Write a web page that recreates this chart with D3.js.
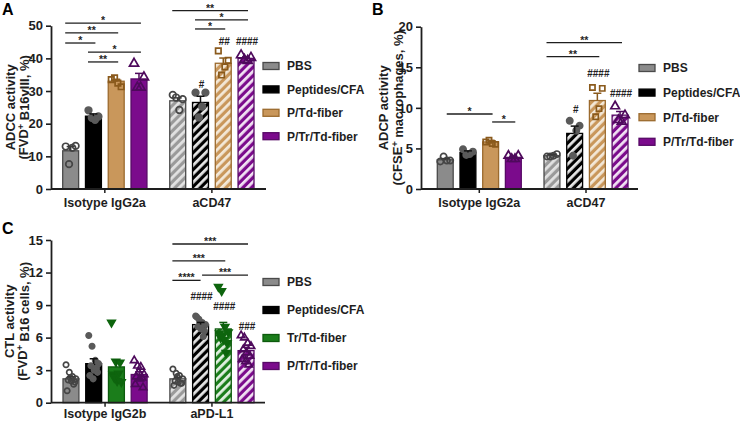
<!DOCTYPE html>
<html><head><meta charset="utf-8">
<script src="https://cdn.jsdelivr.net/npm/d3@7"></script>
<style>body{margin:0;background:#fff;} svg{display:block;font-family:"Liberation Sans",Arial,sans-serif;} .gs{opacity:0.99;}</style>
</head><body><svg id="c" width="740" height="423"></svg>
<script>
// ---------------- DATA ----------------
// Panel A : ADCC
const groupsA = ["Isotype IgG2a", "aCD47"];
const seriesA = ["PBS", "Peptides/CFA", "P/Td-fiber", "P/Tr/Td-fiber"];
const ticksA = [0, 10, 20, 30, 40, 50];
const meanA_iso = [11.7, 22.3, 33.0, 33.7];
const meanA_cd47 = [27.0, 26.5, 38.5, 40.0];
const semA_iso = [1.3, 0.7, 0.6, 1.7];
const semA_cd47 = [0.9, 1.9, 1.6, 0.4];
const ptsA_iso = [[13.0, 13.2, 12.6, 7.6], [24.1, 22.2, 21.2, 21.8], [33.5, 31.3, 32.4, 34.0], [38.4, 34.2, 31.1, 31.1]];
const ptsA_cd47 = [[28.8, 27.5, 24.2, 28.0], [29.5, 29.5, 25.2, 21.9], [42.3, 39.4, 37.4, 34.9], [41.0, 40.2, 39.3, 39.6]];
const sigA = [
  {g: 0, a: 0, b: 3, y: 50.8, label: "*"},
  {g: 0, a: 0, b: 2, y: 47.8, label: "**"},
  {g: 0, a: 0, b: 1, y: 44.7, label: "*"},
  {g: 0, a: 1, b: 3, y: 41.9, label: "*"},
  {g: 0, a: 1, b: 2, y: 38.9, label: "**"},
  {g: 1, a: 0, b: 3, y: 54.6, label: "**"},
  {g: 1, a: 1, b: 3, y: 51.8, label: "*"},
  {g: 1, a: 1, b: 2, y: 49.0, label: "*"}
];
const hashA = [{g: 1, i: 1, y: 32.1, label: "#"}, {g: 1, i: 2, y: 45.3, label: "##"}, {g: 1, i: 3, y: 45.3, label: "####"}];

// Panel B : ADCP
const groupsB = ["Isotype IgG2a", "aCD47"];
const seriesB = ["PBS", "Peptides/CFA", "P/Td-fiber", "P/Tr/Td-fiber"];
const ticksB = [0, 5, 10, 15, 20];
const meanB_iso = [3.6, 4.5, 5.8, 3.9];
const meanB_cd47 = [4.1, 6.85, 10.9, 9.1];
const semB_iso = [0.15, 0.2, 0.2, 0.15];
const semB_cd47 = [0.15, 0.9, 0.9, 0.45];
const ptsB_iso = [[3.4, 3.5, 3.5, 4.0], [4.9, 4.6, 4.3, 4.2], [5.8, 5.5, 5.6, 6.0], [4.1, 4.1, 3.7, 3.7]];
const ptsB_cd47 = [[4.0, 4.3, 4.1, 4.0], [8.4, 7.8, 7.2, 4.1], [12.5, 12.4, 9.9, 8.9], [10.2, 9.1, 8.3, 8.5]];
const sigB = [
  {g: 0, a: 0, b: 2, y: 9.24, label: "*", mid: true},
  {g: 0, a: 2, b: 3, y: 8.26, label: "*", mid: true},
  {g: 1, a: 0, b: 3, y: 18.03, label: "**"},
  {g: 1, a: 0, b: 2, y: 16.31, label: "**"}
];
const hashB = [{g: 1, i: 1, y: 9.85, label: "#"}, {g: 1, i: 2, y: 14.26, label: "####"}, {g: 1, i: 3, y: 11.79, label: "####"}];

// Panel C : CTL
const groupsC = ["Isotype IgG2b", "aPD-L1"];
const seriesC = ["PBS", "Peptides/CFA", "Tr/Td-fiber", "P/Tr/Td-fiber"];
const ticksC = [0, 3, 6, 9, 12, 15];
const meanC_iso = [2.2, 3.6, 3.3, 2.6];
const meanC_pd = [2.2, 7.2, 6.8, 4.8];
const semC_iso = [0.2, 0.45, 0.65, 0.25];
const semC_pd = [0.15, 0.2, 0.6, 0.3];
const ptsC_iso = [
  [3.5, 2.8, 2.4, 2.2, 2.1, 2.0, 1.9, 1.1, 2.3, 1.7],
  [6.2, 5.2, 3.9, 3.6, 3.4, 3.0, 2.8, 2.5, 2.2, 3.2],
  [7.4, 3.8, 3.7, 2.6, 2.0, 1.9, 2.3, 2.7],
  [3.9, 3.4, 3.3, 2.6, 2.4, 2.2, 1.4, 1.7, 2.8, 2.3]
];
const ptsC_pd = [
  [3.1, 2.7, 2.5, 2.2, 2.0, 1.9, 1.8, 1.6, 2.4, 1.8],
  [8.0, 7.7, 7.4, 7.2, 7.0, 6.8, 6.6, 7.9, 7.3, 6.1],
  [10.7, 10.3, 7.0, 6.5, 6.0, 5.8, 5.5, 6.4, 6.2, 4.6],
  [6.2, 6.0, 5.5, 5.2, 4.9, 4.6, 4.3, 4.0, 3.8, 3.5]
];
const sigC = [
  {g: 1, a: 0, b: 3, y: 14.63, label: "***"},
  {g: 1, a: 0, b: 2, y: 13.07, label: "***"},
  {g: 1, a: 0, b: 1, y: 11.28, label: "****", endMid: true},
  {g: 1, a: 1, b: 3, y: 11.77, label: "***", mid: true}
];
const hashC = [{g: 1, i: 1, y: 9.79, label: "####"}, {g: 1, i: 2, y: 8.86, label: "####"}, {g: 1, i: 3, y: 7.02, label: "###"}];

// ---------------- STYLES ----------------
const styles = {
  "PBS":          {fill: "#8b8b8b", stroke: "#4a4a4a", hatchBg: "#9a9a9a", hatchFg: "#e2e2e2", marker: d3.symbolCircle, mFill: "none", mStroke: "#454545", err: "#3a3a3a"},
  "Peptides/CFA": {fill: "#000000", stroke: "#000000", hatchBg: "#000000", hatchFg: "#e6e6e6", marker: d3.symbolCircle, mFill: "#5a5a5a", mStroke: "#5a5a5a", err: "#111"},
  "P/Td-fiber":   {fill: "#c9975b", stroke: "#9b6a2e", hatchBg: "#c9975b", hatchFg: "#f3e8d8", marker: d3.symbolSquare, mFill: "none", mStroke: "#8a5a1c", err: "#8a5a1c"},
  "P/Tr/Td-fiber":{fill: "#7b0b8c", stroke: "#570a66", hatchBg: "#7b0b8c", hatchFg: "#f1e3f3", marker: d3.symbolTriangle, mFill: "none", mStroke: "#4e0a5c", err: "#4e0a5c"},
  "Tr/Td-fiber":  {fill: "#1b7d1b", stroke: "#0d5a0d", hatchBg: "#1b7d1b", hatchFg: "#e3f1e3", marker: d3.symbolTriangle, down: true, mFill: "#0e650e", mStroke: "#0e650e", err: "#0d5a0d"}
};

const panels = [
  {id: "A", letter: [2, 15], groups: groupsA, series: seriesA, ticks: ticksA, means: [meanA_iso, meanA_cd47], sems: [semA_iso, semA_cd47], pts: [ptsA_iso, ptsA_cd47], sig: sigA, hash: hashA,
   title: ["ADCC activity", "(FVD", " B16vIII, %)"], yPx: [189, 25.7], axisX: [51, 266], barX: [62.7, 254], legend: [263, 66, 23.4], titleX: [10, 23], catY: 207, mScale: 1},
  {id: "B", letter: [372, 15], groups: groupsB, series: seriesB, ticks: ticksB, means: [meanB_iso, meanB_cd47], sems: [semB_iso, semB_cd47], pts: [ptsB_iso, ptsB_cd47], sig: sigB, hash: hashB,
   title: ["ADCP activity", "(CFSE", " macrophages, %)"], yPx: [189, 26.7], axisX: [421, 638], barX: [437.3, 628], legend: [639, 68, 24.6], titleX: [383.5, 397], catY: 207, mScale: 0.95},
  {id: "C", letter: [2, 234], groups: groupsC, series: seriesC, ticks: ticksC, means: [meanC_iso, meanC_pd], sems: [semC_iso, semC_pd], pts: [ptsC_iso, ptsC_pd], sig: sigC, hash: hashC,
   title: ["CTL activity", "(FVD", " B16 cells, %)"], yPx: [402.7, 240], axisX: [51, 265], barX: [63, 254], legend: [263, 282, 28], titleX: [9.5, 22.5], catY: 418, mScale: 0.82}
];

const svg = d3.select("#c");
const defs = svg.append("defs");
const ink = "#1e1e1e";

panels.forEach(p => {
  const g = svg.append("g");
  const yMax = p.ticks[p.ticks.length - 1];
  const y = d3.scaleLinear().domain([0, yMax]).range(p.yPx);
  const outer = d3.scaleBand().domain(p.groups).range(p.barX).paddingInner(0.213).paddingOuter(0);
  const inner = d3.scaleBand().domain(p.series).range([0, outer.bandwidth()]).paddingInner(0.3).paddingOuter(0);
  const bw = inner.bandwidth();
  const bx = (gi, si) => outer(p.groups[gi]) + inner(p.series[si]);
  const cx = (gi, si) => bx(gi, si) + bw / 2;

  // hatch patterns
  p.series.forEach((s, si) => {
    const st = styles[s];
    const pat = defs.append("pattern").attr("id", `h${p.id}${si}`).attr("patternUnits", "userSpaceOnUse")
      .attr("width", 6).attr("height", 6).attr("patternTransform", "rotate(45)");
    pat.append("rect").attr("width", 6).attr("height", 6).attr("fill", st.hatchBg);
    pat.append("rect").attr("x", 0).attr("width", 2.8).attr("height", 6).attr("fill", st.hatchFg);
  });

  // panel letter
  g.append("text").attr("x", p.letter[0]).attr("y", p.letter[1]).attr("font-size", 16).attr("font-weight", "bold").attr("fill", "#000").text(p.id);

  // bars
  p.groups.forEach((grp, gi) => {
    p.series.forEach((s, si) => {
      const st = styles[s];
      const v = p.means[gi][si];
      g.append("rect").attr("x", bx(gi, si)).attr("width", bw)
        .attr("y", y(v)).attr("height", y(0) - y(v))
        .attr("fill", gi === 0 ? st.fill : `url(#h${p.id}${si})`)
        .attr("stroke", st.stroke).attr("stroke-width", 1.3);
    });
  });

  // points
  p.groups.forEach((grp, gi) => {
    p.series.forEach((s, si) => {
      const st = styles[s];
      const arr = p.pts[gi][si];
      const n = arr.length;
      const sc = p.mScale * p.mScale;
      const sym = d3.symbol().type(st.marker).size(st.marker === d3.symbolSquare ? 30 * sc : (st.marker === d3.symbolTriangle ? 36 * sc : 34 * sc));
      arr.forEach((v, i) => {
        const k = n > 1 ? ((i * 3) % n) / (n - 1) - 0.5 : 0;
        const px = cx(gi, si) + k * bw * 0.62;
        g.append("path").attr("d", sym())
          .attr("transform", `translate(${px},${y(v)})${st.down ? " rotate(180)" : ""}`)
          .attr("fill", st.mFill).attr("stroke", st.mStroke).attr("stroke-width", 1.7);
      });
    });
  });

  // error bars (upper)
  p.groups.forEach((grp, gi) => {
    p.series.forEach((s, si) => {
      const st = styles[s];
      const m = p.means[gi][si], e = p.sems[gi][si];
      const x = cx(gi, si);
      g.append("line").attr("x1", x).attr("x2", x).attr("y1", y(m)).attr("y2", y(m + e)).attr("stroke", st.err).attr("stroke-width", 1.5);
      g.append("line").attr("x1", x - 4).attr("x2", x + 4).attr("y1", y(m + e)).attr("y2", y(m + e)).attr("stroke", st.err).attr("stroke-width", 1.5);
    });
  });

  // y axis
  const ya = g.append("g").attr("transform", `translate(${p.axisX[0]},0)`)
    .call(d3.axisLeft(y).tickValues(p.ticks).tickSize(5).tickSizeOuter(0).tickPadding(3));
  ya.select(".domain").attr("stroke", ink).attr("stroke-width", 1.8);
  ya.selectAll(".tick line").attr("stroke", ink).attr("stroke-width", 1.6);
  ya.selectAll(".tick text").attr("font-size", 13).attr("font-weight", "bold").attr("fill", ink).attr("font-family", "Liberation Sans, Arial, sans-serif");

  // x axis
  g.append("line").attr("x1", p.axisX[0]).attr("x2", p.axisX[1]).attr("y1", y(0)).attr("y2", y(0)).attr("stroke", ink).attr("stroke-width", 1.8);
  const xa = g.append("g").attr("transform", `translate(0,${y(0)})`)
    .call(d3.axisBottom(outer).tickSize(4).tickSizeOuter(0).tickPadding(20));
  xa.select(".domain").remove();
  xa.selectAll(".tick line").attr("stroke", ink).attr("stroke-width", 1.5);
  xa.selectAll(".tick text").remove();
  p.groups.forEach(grp => {
    g.append("text").attr("x", outer(grp) + outer.bandwidth() / 2).attr("y", p.catY).attr("text-anchor", "middle")
      .attr("font-size", 12.5).attr("font-weight", "bold").attr("fill", ink).text(grp);
  });

  // y title
  const yc = (p.yPx[0] + p.yPx[1]) / 2;
  g.append("text").attr("transform", `translate(${p.titleX[0]},${yc}) rotate(-90)`).attr("dy", "0.35em")
    .attr("text-anchor", "middle").attr("font-size", 13).attr("font-weight", "bold").attr("fill", ink).text(p.title[0]);
  const t2 = g.append("text").attr("transform", `translate(${p.titleX[1]},${yc}) rotate(-90)`).attr("dy", "0.35em")
    .attr("text-anchor", "middle").attr("font-size", 13).attr("font-weight", "bold").attr("fill", ink);
  t2.append("tspan").text(p.title[1]);
  t2.append("tspan").attr("dy", "-0.4em").attr("font-size", 9).text("+");
  t2.append("tspan").attr("dy", "0.4em").text(p.title[2]);

  // significance lines
  p.sig.forEach(s => {
    const x1 = s.mid ? cx(s.g, s.a) + 1.5 : bx(s.g, s.a) + 2.5;
    const x2 = s.endMid ? cx(s.g, s.b) : bx(s.g, s.b) + bw - 6;
    const yy = y(s.y);
    g.append("line").attr("x1", x1).attr("x2", x2).attr("y1", yy).attr("y2", yy).attr("stroke", ink).attr("stroke-width", 1.3);
    g.append("text").attr("class", "gs").attr("x", (x1 + x2) / 2).attr("y", yy + 1).attr("text-anchor", "middle")
      .attr("font-size", 10.5).attr("font-weight", "bold").attr("fill", ink).text(s.label);
  });

  // hash marks
  p.hash.forEach(h => {
    g.append("text").attr("class", "gs").attr("x", cx(h.g, h.i) + 1).attr("y", y(h.y) + 3.6).attr("text-anchor", "middle")
      .attr("font-size", 10).attr("font-weight", "bold").attr("fill", ink).text(h.label);
  });

  // legend
  p.series.forEach((s, si) => {
    const st = styles[s];
    const ly = p.legend[1] + si * p.legend[2];
    g.append("rect").attr("x", p.legend[0]).attr("y", ly - 3.5).attr("width", 16).attr("height", 7)
      .attr("fill", st.fill).attr("stroke", st.stroke).attr("stroke-width", 1.3);
    g.append("text").attr("x", p.legend[0] + 24).attr("y", ly).attr("dy", "0.36em")
      .attr("font-size", 12).attr("font-weight", "bold").attr("fill", ink).text(s);
  });
});
</script></body></html>
